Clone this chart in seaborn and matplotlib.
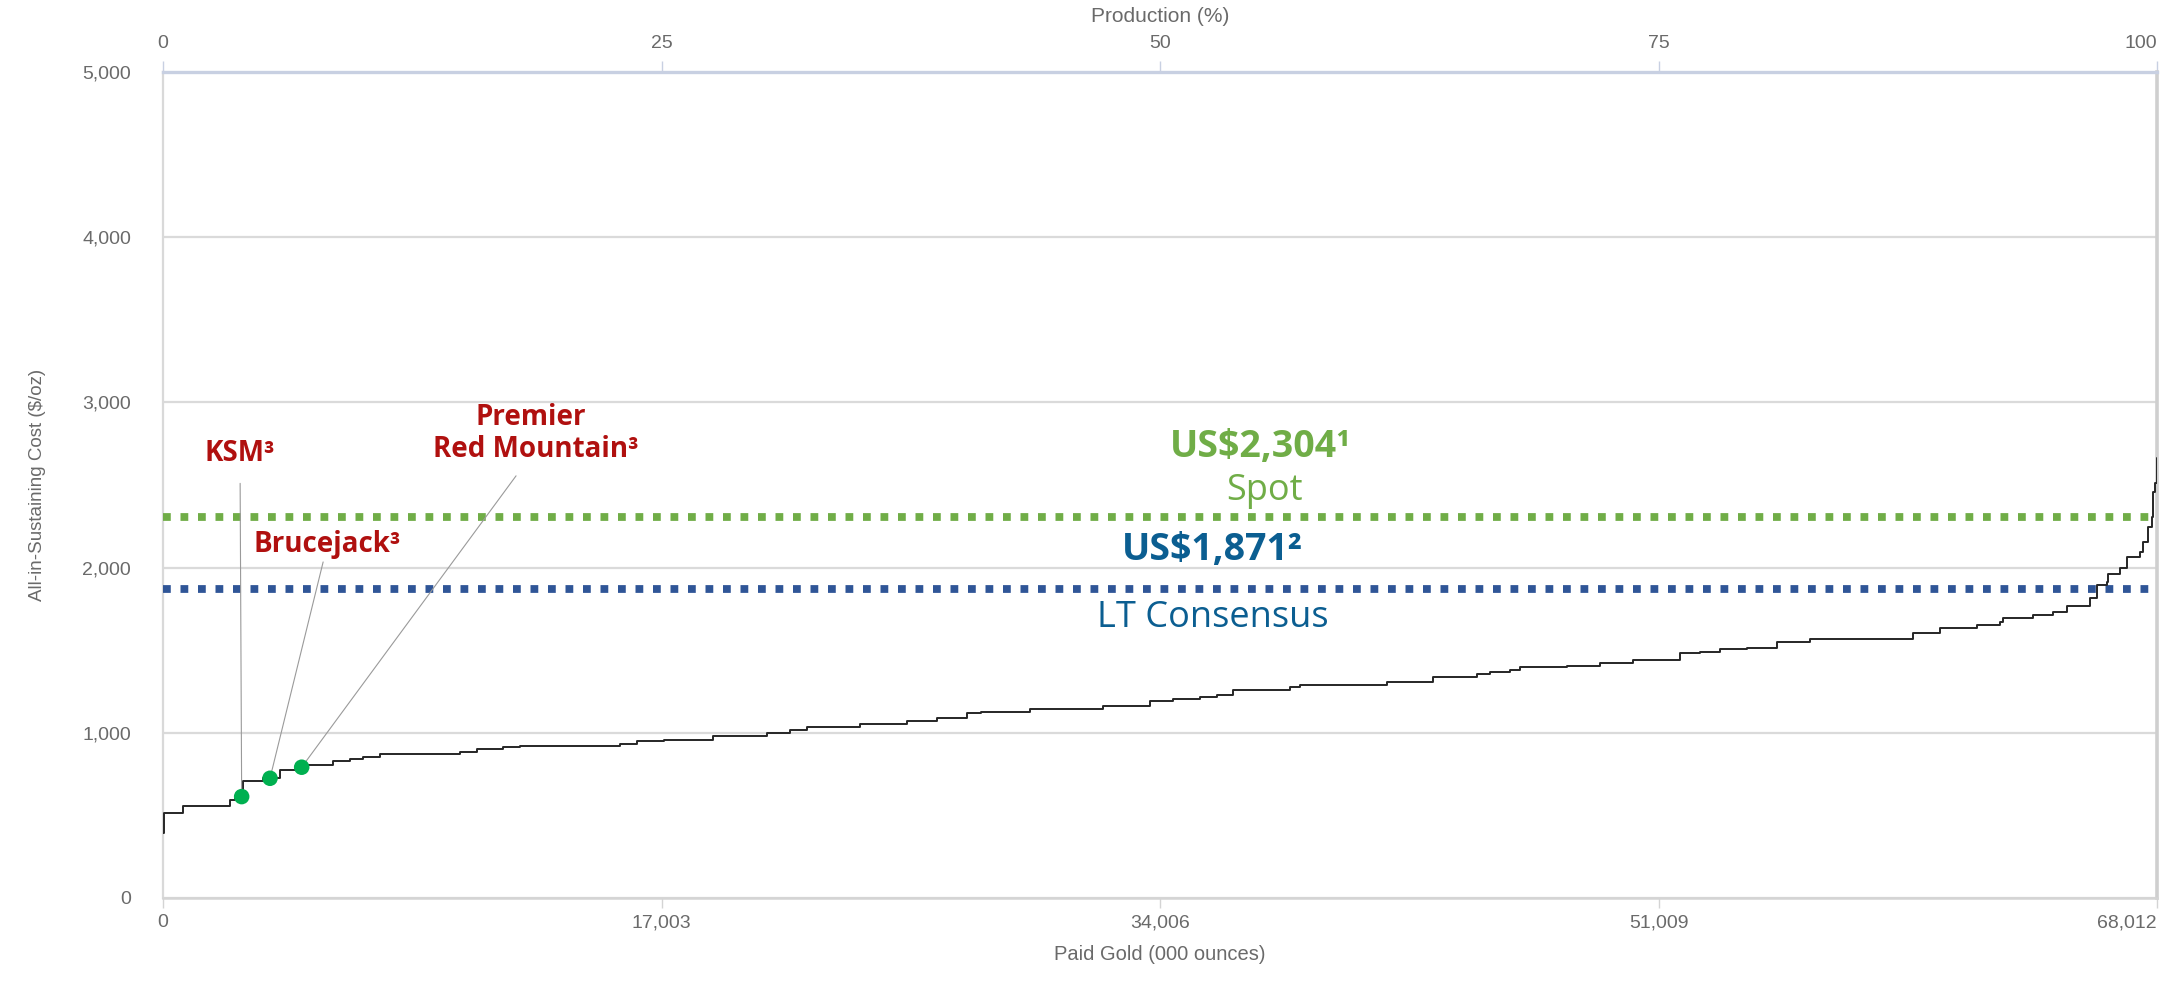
import matplotlib
matplotlib.use("Agg")
import matplotlib.pyplot as plt
import pandas as pd
import seaborn as sns
from matplotlib import font_manager
from matplotlib.ticker import FixedLocator, FuncFormatter

# ---- data -----------------------------------------------------------------
# cumulative paid gold (000 oz) at the start of each cost step, and AISC ($/oz)
paid_gold_koz = [0, 40, 693, 2285, 2456, 2740, 3422, 3991, 4600, 4900,
                 5810, 6378, 6833, 7401, 10130, 10699, 11608, 12177, 15587, 16156,
                 17100, 18770, 20590, 21386, 21955, 23773, 25365, 26389, 27412, 27900,
                 29571, 32072, 33664, 34459, 35370, 35938, 36506, 38440, 38781, 41737,
                 43328, 44807, 45261, 45943, 46284, 47876, 49013, 50149, 51741, 52423,
                 53106, 54016, 55039, 56175, 59700, 60609, 61862, 62657, 62771, 63794,
                 64476, 64931, 65726, 65953, 66294, 66351, 66749, 66976, 67431, 67545,
                 67715, 67829, 67886, 67942, 68000]
aisc_usd_oz = [392, 513, 556, 592, 612, 708, 723, 775, 790, 802,
               828, 838, 854, 868, 884, 899, 913, 919, 933, 947,
               955, 981, 996, 1016, 1036, 1050, 1072, 1090, 1117, 1127,
               1143, 1163, 1192, 1204, 1214, 1228, 1258, 1275, 1289, 1309,
               1335, 1353, 1369, 1379, 1396, 1404, 1424, 1440, 1481, 1490,
               1505, 1511, 1547, 1567, 1602, 1632, 1652, 1672, 1696, 1713,
               1731, 1769, 1814, 1895, 1915, 1961, 1996, 2066, 2096, 2157,
               2248, 2308, 2460, 2511, 2662]

total_paid_koz = 68012
x_ticks = [0, 17003, 34006, 51009, 68012]
pct_ticks = [0, 25, 50, 75, 100]
y_ticks = [0, 1000, 2000, 3000, 4000, 5000]

projects = ["KSM³", "Brucejack³", "Red Mountain³"]
project_koz = [2683, 3650, 4730]
project_aisc = [612, 723, 790]

spot_price = 2304
consensus_price = 1871

# ---- fonts ----------------------------------------------------------------
sns.set_theme(style="white")
available = {f.name for f in font_manager.fontManager.ttflist}
axis_font = "Liberation Sans" if "Liberation Sans" in available else "DejaVu Sans"
label_font = "Open Sans" if "Open Sans" in available else "DejaVu Sans"
plt.rcParams["font.family"] = [axis_font, "DejaVu Sans"]

GREY_TXT = "#6a6a6a"
RED = "#b0100f"
GREEN = "#70ad47"
BLUE_TXT = "#0b5e91"
BLUE_LINE = "#2f5597"
DOT = "#00b050"

W, H = 2182, 981
fig = plt.figure(figsize=(W / 100, H / 100), dpi=100)
ax = fig.add_axes([163 / W, 1 - 897.6 / H, (2157 - 163) / W, (897.6 - 72.4) / H])

curve = pd.DataFrame({"koz": paid_gold_koz, "aisc": aisc_usd_oz})
sns.lineplot(data=curve, x="koz", y="aisc", ax=ax, drawstyle="steps-post",
             color="#262626", lw=1.4, estimator=None, sort=False, zorder=4)

sites = pd.DataFrame({"koz": project_koz, "aisc": project_aisc, "name": projects})
sns.scatterplot(data=sites, x="koz", y="aisc", ax=ax, s=125, color=DOT,
                edgecolor="none", zorder=6, legend=False)

# price reference lines
ax.axhline(spot_price, color=GREEN, lw=5.6, linestyle=(0, (1, 1.25)), zorder=3)
ax.axhline(consensus_price, color=BLUE_LINE, lw=5.6, linestyle=(0, (1, 1.25)), zorder=3)

# ---- axes -----------------------------------------------------------------
ax.set_xlim(0, total_paid_koz)
ax.set_ylim(0, 5000)
ax.xaxis.set_major_locator(FixedLocator(x_ticks))
ax.yaxis.set_major_locator(FixedLocator(y_ticks))
ax.xaxis.set_major_formatter(FuncFormatter(lambda v, p: f"{v:,.0f}"))
ax.yaxis.set_major_formatter(FuncFormatter(lambda v, p: f"{v:,.0f}"))
ax.yaxis.grid(True, color="#dadada", lw=1.6)
ax.xaxis.grid(False)
ax.tick_params(axis="x", direction="out", length=7, width=1.0, color="#d4d4d4",
               labelsize=14, labelcolor=GREY_TXT, pad=5, bottom=True)
ax.tick_params(axis="y", length=0, labelsize=14, labelcolor=GREY_TXT, pad=23)
ax.set_xlabel("Paid Gold (000 ounces)", fontsize=14.5, color=GREY_TXT, labelpad=10)
ax.set_ylabel("All-in-Sustaining Cost ($/oz)", fontsize=13.5, color=GREY_TXT, labelpad=26)

ax.spines["top"].set_color("#c8d0e2")
ax.spines["top"].set_linewidth(2.4)
ax.spines["bottom"].set_color("#d4d4d4")
ax.spines["bottom"].set_linewidth(1.8)
ax.spines["left"].set_color("#d9d9d9")
ax.spines["left"].set_linewidth(1.6)
ax.spines["right"].set_color("#cfcfcf")
ax.spines["right"].set_linewidth(2.6)

top = ax.secondary_xaxis("top", functions=(lambda v: v / total_paid_koz * 100,
                                           lambda p: p * total_paid_koz / 100))
top.xaxis.set_major_locator(FixedLocator(pct_ticks))
top.tick_params(axis="x", direction="out", length=8, width=1.0, color="#c8d0e2",
                labelsize=14, labelcolor=GREY_TXT, pad=7)
top.spines["top"].set_visible(False)
top.set_xlabel("Production (%)", fontsize=15, color=GREY_TXT, labelpad=9)

fig.canvas.draw()
ax.get_xticklabels()[-1].set_horizontalalignment("right")
top.get_xticklabels()[-1].set_horizontalalignment("right")

# ---- price annotations ------------------------------------------------------
ax.text(37450, 2672, f"US${spot_price:,}¹", ha="center", va="baseline",
        fontsize=27, fontweight="bold", color=GREEN, family=label_font)
ax.text(37580, 2410, "Spot", ha="center", va="baseline",
        fontsize=26, color=GREEN, family=label_font)
ax.text(35800, 2046, f"US${consensus_price:,}²", ha="center", va="baseline",
        fontsize=27, fontweight="bold", color=BLUE_TXT, family=label_font)
ax.text(35800, 1640, "LT Consensus", ha="center", va="baseline",
        fontsize=26, color=BLUE_TXT, family=label_font)

# ---- project call-outs ------------------------------------------------------
leader = dict(arrowstyle="-", color="#9a9a9a", lw=0.8, shrinkB=0)
label_pos = [(2626, 2648, 9), (5611, 2096, 0), (12713, 2672, 8)]
for name, kx, ky, (tx, ty, gap) in zip(projects, project_koz, project_aisc, label_pos):
    ax.annotate(name, xy=(kx, ky), xytext=(tx, ty), textcoords="data",
                ha="center", va="baseline", fontsize=20, fontweight="bold",
                color=RED, family=label_font,
                arrowprops=dict(leader, shrinkA=gap), zorder=5)
ax.text(12552, 2864, "Premier", ha="center", va="baseline", fontsize=20,
        fontweight="bold", color=RED, family=label_font)

fig.savefig("out.png", dpi=100, facecolor="white")
